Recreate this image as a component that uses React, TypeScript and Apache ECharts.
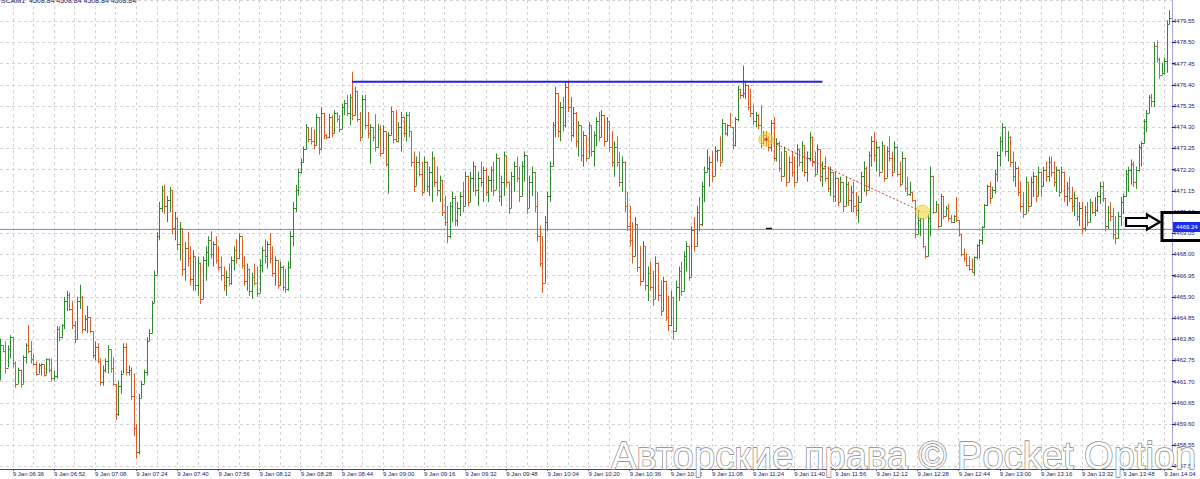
import React, { useEffect, useRef } from 'react';
import * as echarts from 'echarts';

// ---------- data ----------
const HEADER_TEXT = 'SCAM1  4508.84 4508.84 4508.84 4508.84';
const DAY_LABEL = '9 Jan';
const START_HOUR = 6;
const START_MIN = 31;
const FIRST_OPEN = 4462.0;

// one-minute bars (close / high / low)
const closes = [
  4463.5, 4463.2, 4462.4, 4463.3, 4463.9, 4462.6, 4461.6, 4462.3, 4461.6, 4462.9, 4463.5, 4463.2, 4462.8, 4462.55, 4462.1, 4462.5,
  4462.55, 4462.05, 4462.8, 4462.3, 4461.9, 4462.0, 4464.3, 4463.9, 4464.5, 4465.7, 4466.0, 4465.3, 4464.5, 4463.8, 4465.7, 4465.9,
  4464.3, 4464.8, 4464.9, 4464.2, 4463.0, 4463.4, 4462.7, 4461.7, 4462.3, 4462.7, 4463.3, 4462.4, 4461.6, 4460.1, 4461.5, 4462.1,
  4463.4, 4462.2, 4462.3, 4461.0, 4459.4, 4458.2, 4460.9, 4461.6, 4462.2, 4463.7, 4464.1, 4465.6, 4467.0, 4468.9, 4470.3, 4471.2,
  4470.4, 4470.7, 4471.2, 4469.3, 4469.8, 4468.5, 4469.3, 4467.3, 4468.3, 4467.8, 4466.8, 4467.9, 4466.5, 4467.6, 4465.8, 4467.7,
  4468.1, 4468.7, 4468.0, 4468.5, 4467.7, 4467.4, 4467.0, 4466.5, 4466.9, 4466.6, 4467.7, 4468.2, 4467.8, 4468.9, 4467.5, 4466.7,
  4467.3, 4466.2, 4466.9, 4466.6, 4466.1, 4467.5, 4468.2, 4467.9, 4468.5, 4467.8, 4467.1, 4467.7, 4466.5, 4467.4, 4466.4, 4466.3,
  4467.4, 4468.9, 4470.3, 4471.2, 4472.1, 4472.6, 4473.2, 4474.3, 4473.7, 4473.6, 4473.4, 4474.8, 4473.2, 4475.0, 4473.9, 4473.8,
  4474.8, 4474.0, 4475.0, 4474.7, 4474.2, 4475.3, 4475.5, 4475.0, 4475.8, 4474.9, 4476.1, 4474.7, 4473.8, 4475.7, 4474.4, 4474.0,
  4474.3, 4473.8, 4473.3, 4474.2, 4473.0, 4474.1, 4472.5, 4473.9, 4475.1, 4473.7, 4473.6, 4474.3, 4474.8, 4474.0, 4474.9, 4474.1,
  4472.6, 4471.4, 4472.6, 4472.0, 4471.1, 4472.6, 4471.4, 4472.1, 4472.8, 4471.6, 4471.2, 4471.7, 4470.1, 4469.6, 4468.9, 4470.4,
  4470.8, 4469.7, 4470.3, 4470.9, 4470.4, 4471.9, 4470.6, 4471.8, 4472.4, 4471.2, 4471.8, 4471.6, 4472.2, 4471.1, 4471.7, 4472.2,
  4471.2, 4472.8, 4470.9, 4471.6, 4472.9, 4471.6, 4470.3, 4471.9, 4472.4, 4471.8, 4470.9, 4472.4, 4472.9, 4470.3, 4471.6, 4472.1,
  4470.4, 4468.9, 4467.6, 4466.6, 4469.6, 4470.9, 4472.4, 4474.4, 4476.0, 4474.1, 4475.3, 4474.4, 4476.3, 4475.3, 4473.9, 4475.0,
  4473.6, 4474.4, 4472.9, 4473.9, 4472.8, 4474.4, 4473.1, 4473.9, 4474.6, 4473.8, 4474.9, 4473.6, 4474.6, 4473.3, 4472.6, 4473.3,
  4472.6, 4471.6, 4472.6, 4470.4, 4469.4, 4468.7, 4467.9, 4469.5, 4467.4, 4466.7, 4468.4, 4466.5, 4467.1, 4466.4, 4465.8, 4467.6,
  4466.0, 4465.2, 4466.7, 4464.9, 4464.5, 4465.9, 4464.2, 4466.4, 4467.2, 4466.2, 4467.9, 4468.4, 4466.9, 4469.2, 4468.4, 4470.1,
  4469.5, 4471.4, 4472.1, 4472.3, 4472.6, 4471.9, 4473.1, 4473.15, 4472.6, 4474.5, 4474.0, 4474.4, 4474.3, 4473.4, 4474.7, 4476.2,
  4475.9, 4476.0, 4476.4, 4475.3, 4475.0, 4474.6, 4474.9, 4474.4, 4473.5, 4473.9, 4473.7, 4473.3, 4474.5, 4472.8, 4473.5, 4472.3,
  4471.9, 4473.1, 4471.6, 4472.6, 4472.1, 4471.6, 4473.2, 4472.6, 4473.4, 4472.1, 4472.8, 4473.8, 4472.6, 4472.0, 4473.2, 4471.9,
  4472.3, 4471.8, 4471.3, 4472.1, 4470.9, 4471.8, 4470.6, 4471.6, 4470.4, 4471.5, 4470.7, 4471.1, 4470.4, 4470.2, 4470.6, 4471.9,
  4472.3, 4471.2, 4472.9, 4473.6, 4472.9, 4473.3, 4472.1, 4473.4, 4471.8, 4473.1, 4472.8, 4472.1, 4473.3, 4472.0, 4471.5, 4472.8,
  4471.3, 4471.0, 4471.1, 4470.7, 4469.0, 4469.7, 4469.8, 4468.4, 4467.9, 4469.8, 4471.9, 4470.1, 4470.5, 4469.4, 4470.9, 4469.9,
  4470.3, 4469.8, 4469.6, 4469.9, 4469.7, 4469.0, 4468.0, 4467.8, 4467.5, 4467.3, 4467.15, 4467.85, 4468.45, 4468.7, 4469.35, 4470.45,
  4471.4, 4470.8, 4471.2, 4472.0, 4472.9, 4473.6, 4474.3, 4473.1, 4473.8, 4472.6, 4471.9, 4472.3, 4471.1, 4470.4, 4470.0, 4471.6,
  4470.4, 4471.6, 4471.9, 4470.9, 4472.1, 4471.4, 4472.2, 4471.9, 4472.6, 4472.1, 4471.6, 4472.2, 4471.1, 4472.1, 4470.9, 4471.3,
  4470.8, 4470.4, 4470.8, 4469.9, 4470.3, 4469.3, 4470.1, 4469.6, 4470.6, 4470.1, 4470.2, 4470.9, 4471.4, 4470.8, 4469.4, 4470.1,
  4469.9, 4469.0, 4468.8, 4469.9, 4470.6, 4470.9, 4472.0, 4472.2, 4472.5, 4471.6, 4472.2, 4473.3, 4473.5, 4474.6, 4475.0, 4475.8,
  4475.6, 4478.3, 4477.7, 4476.9, 4477.0, 4477.6, 4479.4, 4479.7, 4479.5,
];

const highs = [
  4463.83, 4463.45, 4463.7, 4463.5, 4464.0, 4463.9, 4462.7, 4462.4, 4462.1, 4463.0, 4463.6, 4464.5, 4463.7, 4463.1, 4462.7, 4462.6,
  4462.6, 4462.5, 4462.85, 4462.85, 4462.85, 4462.25, 4464.45, 4464.45, 4464.55, 4465.9, 4466.2, 4466.1, 4465.7, 4464.7, 4465.9, 4466.5,
  4465.95, 4465.0, 4465.45, 4464.9, 4464.2, 4463.7, 4463.6, 4462.85, 4462.5, 4462.85, 4463.5, 4463.3, 4462.9, 4461.6, 4461.75, 4462.25,
  4463.6, 4463.6, 4462.5, 4462.4, 4462.1, 4459.6, 4461.1, 4461.75, 4462.3, 4463.9, 4464.3, 4465.7, 4467.2, 4469.1, 4470.6, 4471.4,
  4471.45, 4470.9, 4471.35, 4471.2, 4470.1, 4469.7, 4469.6, 4468.9, 4468.6, 4469.1, 4468.4, 4468.2, 4467.7, 4467.9, 4467.45, 4467.9,
  4468.4, 4468.9, 4469.15, 4468.65, 4468.9, 4468.4, 4467.9, 4467.4, 4467.2, 4467.55, 4467.9, 4468.4, 4468.75, 4469.05, 4468.65, 4467.9,
  4467.55, 4467.25, 4467.1, 4467.55, 4467.4, 4467.75, 4468.4, 4468.75, 4468.65, 4469.05, 4468.4, 4467.9, 4467.55, 4467.65, 4467.45, 4467.3,
  4467.65, 4469.15, 4470.6, 4471.45, 4472.25, 4472.75, 4473.35, 4474.45, 4474.15, 4474.3, 4474.2, 4474.95, 4474.45, 4475.3, 4475.0, 4473.95,
  4474.95, 4474.9, 4475.15, 4475.05, 4474.9, 4475.45, 4475.65, 4475.9, 4475.95, 4477.05, 4476.3, 4476.1, 4475.05, 4475.9, 4475.9, 4475.05,
  4474.45, 4474.3, 4474.95, 4474.45, 4474.4, 4474.4, 4474.1, 4474.05, 4475.3, 4475.1, 4475.15, 4474.55, 4475.06, 4474.8, 4475.05, 4475.05,
  4474.1, 4473.1, 4472.85, 4473.1, 4472.6, 4472.85, 4472.6, 4472.35, 4473.1, 4472.85, 4472.35, 4471.9, 4471.4, 4470.9, 4470.4, 4470.6,
  4471.1, 4470.9, 4470.6, 4471.1, 4471.6, 4472.1, 4471.9, 4472.1, 4472.6, 4472.4, 4472.1, 4472.6, 4472.35, 4472.3, 4471.9, 4472.35,
  4472.6, 4473.0, 4472.8, 4471.9, 4473.1, 4472.9, 4471.6, 4472.1, 4472.6, 4472.85, 4472.35, 4472.6, 4473.1, 4472.9, 4471.9, 4472.35,
  4472.1, 4471.1, 4469.4, 4468.9, 4469.9, 4471.1, 4472.6, 4474.55, 4476.3, 4475.8, 4475.55, 4475.8, 4476.55, 4476.6, 4475.8, 4475.3,
  4475.05, 4474.6, 4474.3, 4474.1, 4473.85, 4474.55, 4474.4, 4474.1, 4474.8, 4475.05, 4475.15, 4474.9, 4474.8, 4474.6, 4474.1, 4473.6,
  4473.85, 4473.1, 4472.85, 4472.1, 4471.1, 4470.4, 4469.6, 4469.85, 4468.9, 4468.4, 4468.65, 4467.9, 4467.4, 4467.65, 4467.2, 4467.9,
  4467.6, 4466.7, 4466.9, 4466.45, 4465.95, 4466.2, 4465.7, 4466.7, 4467.4, 4467.65, 4468.15, 4468.65, 4468.4, 4469.4, 4469.85, 4470.4,
  4470.85, 4471.6, 4472.35, 4473.2, 4472.85, 4473.1, 4473.35, 4473.2, 4473.85, 4474.7, 4474.5, 4474.45, 4475.0, 4474.3, 4474.8, 4476.35,
  4476.2, 4477.35, 4476.6, 4476.4, 4476.2, 4475.4, 4475.05, 4474.95, 4475.4, 4474.1, 4474.1, 4473.85, 4474.65, 4474.8, 4473.75, 4473.6,
  4473.1, 4473.35, 4473.1, 4472.85, 4473.1, 4472.85, 4473.45, 4473.2, 4473.6, 4473.35, 4473.1, 4474.05, 4473.85, 4473.1, 4473.45, 4473.2,
  4472.6, 4472.85, 4472.35, 4472.35, 4471.85, 4472.1, 4471.6, 4471.85, 4471.6, 4471.85, 4471.6, 4471.4, 4471.6, 4471.1, 4470.9, 4472.1,
  4472.6, 4472.35, 4473.1, 4473.85, 4474.05, 4473.6, 4473.35, 4473.6, 4473.1, 4473.35, 4473.85, 4473.1, 4473.6, 4473.35, 4472.6, 4473.1,
  4472.6, 4471.85, 4471.6, 4471.1, 4470.4, 4470.15, 4469.8, 4469.0, 4468.4, 4470.0, 4472.35, 4470.3, 4470.65, 4470.0, 4471.0, 4470.4,
  4470.4, 4470.5, 4469.95, 4469.95, 4470.85, 4469.65, 4469.0, 4468.3, 4468.05, 4467.9, 4467.8, 4467.9, 4468.5, 4468.75, 4469.4, 4470.5,
  4471.45, 4471.6, 4471.35, 4472.2, 4473.1, 4473.85, 4474.5, 4474.35, 4474.1, 4473.85, 4473.1, 4472.6, 4472.35, 4471.6, 4471.1, 4471.85,
  4471.6, 4471.85, 4472.1, 4471.85, 4472.35, 4472.1, 4472.35, 4472.6, 4472.85, 4472.85, 4472.6, 4472.35, 4472.1, 4472.35, 4472.1, 4471.6,
  4471.85, 4471.35, 4471.1, 4470.85, 4470.6, 4470.6, 4470.4, 4470.6, 4470.75, 4470.6, 4470.85, 4471.1, 4471.6, 4471.6, 4470.6, 4470.4,
  4470.6, 4470.3, 4469.9, 4470.1, 4470.85, 4471.0, 4472.2, 4472.35, 4472.7, 4472.6, 4472.35, 4473.45, 4473.6, 4474.7, 4475.15, 4475.9,
  4475.95, 4478.5, 4478.6, 4477.75, 4477.5, 4477.75, 4479.6, 4480.1, 4480.3,
];

const lows = [
  4461.76, 4463.15, 4462.1, 4462.5, 4462.85, 4462.4, 4461.4, 4461.75, 4461.4, 4461.85, 4462.6, 4463.1, 4462.6, 4462.5, 4462.0, 4462.15,
  4462.0, 4461.95, 4462.15, 4462.15, 4461.7, 4461.75, 4461.85, 4463.7, 4463.85, 4464.3, 4465.2, 4465.2, 4464.3, 4463.6, 4463.8, 4465.3,
  4464.1, 4464.2, 4464.1, 4464.1, 4462.85, 4462.75, 4462.6, 4461.5, 4461.5, 4462.15, 4462.1, 4462.15, 4461.5, 4459.8, 4460.0, 4461.1,
  4462.1, 4462.0, 4462.0, 4460.8, 4459.0, 4457.9, 4458.1, 4460.9, 4461.6, 4462.0, 4463.7, 4464.1, 4465.6, 4467.0, 4468.7, 4470.1,
  4470.0, 4469.6, 4470.1, 4469.0, 4468.7, 4468.2, 4467.7, 4466.95, 4466.7, 4467.4, 4466.45, 4466.2, 4466.2, 4465.95, 4465.55, 4466.2,
  4466.7, 4467.4, 4467.8, 4467.4, 4467.55, 4467.2, 4466.7, 4466.2, 4465.95, 4466.45, 4466.5, 4467.2, 4467.55, 4467.8, 4467.3, 4466.45,
  4466.2, 4465.95, 4465.8, 4466.45, 4465.9, 4466.1, 4467.1, 4467.55, 4467.3, 4467.55, 4466.9, 4466.45, 4466.3, 4466.45, 4466.2, 4466.1,
  4466.2, 4467.3, 4468.4, 4470.1, 4470.9, 4472.0, 4472.55, 4473.2, 4473.55, 4473.45, 4473.2, 4473.4, 4472.95, 4473.2, 4473.7, 4473.7,
  4473.75, 4473.8, 4474.0, 4474.55, 4474.05, 4474.2, 4474.9, 4474.85, 4474.4, 4474.65, 4475.3, 4474.55, 4473.6, 4473.8, 4474.2, 4473.75,
  4472.5, 4473.6, 4473.1, 4473.45, 4472.85, 4473.0, 4472.35, 4471.0, 4474.2, 4473.5, 4473.55, 4473.55, 4473.1, 4473.8, 4473.6, 4473.8,
  4472.35, 4471.1, 4471.6, 4471.85, 4470.9, 4471.1, 4471.1, 4470.9, 4470.6, 4471.35, 4470.9, 4470.6, 4469.9, 4469.4, 4468.55, 4468.8,
  4469.6, 4469.4, 4469.4, 4469.9, 4470.1, 4470.5, 4470.4, 4470.6, 4471.1, 4470.9, 4470.4, 4471.35, 4470.6, 4470.9, 4470.6, 4471.1,
  4470.9, 4471.35, 4470.6, 4470.4, 4470.9, 4471.35, 4470.0, 4470.4, 4471.1, 4471.6, 4470.6, 4470.9, 4471.6, 4470.0, 4470.4, 4470.9,
  4470.1, 4468.65, 4467.4, 4466.1, 4466.6, 4469.15, 4470.6, 4472.35, 4473.8, 4473.8, 4473.6, 4474.1, 4474.3, 4475.05, 4473.6, 4473.8,
  4473.3, 4472.85, 4472.6, 4472.35, 4472.6, 4472.8, 4472.85, 4472.35, 4473.35, 4473.6, 4473.8, 4473.35, 4473.6, 4473.1, 4472.35, 4471.85,
  4472.35, 4471.35, 4471.1, 4470.1, 4469.15, 4468.4, 4467.55, 4468.15, 4467.15, 4466.45, 4466.9, 4466.2, 4465.7, 4466.2, 4465.45, 4465.8,
  4465.7, 4464.95, 4465.2, 4464.7, 4464.2, 4464.45, 4463.8, 4464.2, 4465.7, 4465.95, 4466.45, 4467.15, 4466.7, 4466.9, 4468.15, 4468.4,
  4469.15, 4469.4, 4470.6, 4472.1, 4471.35, 4471.6, 4472.1, 4472.6, 4472.35, 4472.6, 4473.9, 4473.85, 4474.3, 4473.2, 4473.35, 4474.6,
  4475.7, 4475.75, 4475.7, 4475.15, 4474.8, 4474.4, 4474.3, 4474.2, 4473.25, 4473.45, 4473.35, 4473.1, 4473.1, 4472.6, 4472.6, 4472.1,
  4471.6, 4471.85, 4471.35, 4471.6, 4471.85, 4471.35, 4472.1, 4472.35, 4472.1, 4471.85, 4471.6, 4472.6, 4472.35, 4471.85, 4472.1, 4471.6,
  4471.35, 4471.6, 4471.1, 4470.9, 4470.6, 4470.6, 4470.4, 4470.6, 4470.1, 4470.4, 4470.4, 4470.1, 4470.1, 4469.9, 4469.55, 4470.6,
  4471.1, 4470.9, 4471.35, 4472.35, 4472.6, 4472.1, 4471.85, 4472.35, 4471.6, 4472.1, 4472.6, 4471.85, 4472.1, 4471.85, 4471.35, 4471.6,
  4471.1, 4470.9, 4470.9, 4470.6, 4468.8, 4469.5, 4468.9, 4468.3, 4467.8, 4467.9, 4468.9, 4470.0, 4470.35, 4469.3, 4469.4, 4469.75,
  4469.95, 4469.65, 4469.55, 4469.55, 4469.6, 4468.9, 4467.9, 4467.65, 4467.4, 4467.2, 4467.1, 4466.95, 4467.75, 4467.8, 4468.5, 4469.3,
  4470.4, 4470.5, 4470.8, 4471.0, 4471.6, 4472.35, 4473.1, 4472.85, 4472.6, 4472.35, 4471.6, 4471.35, 4470.9, 4470.1, 4469.8, 4470.4,
  4470.1, 4470.6, 4470.85, 4470.6, 4471.1, 4470.85, 4471.35, 4471.6, 4471.6, 4471.85, 4471.35, 4471.1, 4470.85, 4471.1, 4470.6, 4470.4,
  4470.6, 4470.1, 4469.9, 4469.65, 4469.4, 4469.0, 4469.15, 4469.4, 4469.9, 4470.0, 4469.9, 4470.1, 4470.5, 4470.6, 4469.15, 4469.25,
  4469.65, 4468.75, 4468.5, 4468.9, 4469.4, 4470.0, 4470.85, 4471.1, 4471.45, 4471.35, 4471.25, 4472.1, 4472.35, 4473.5, 4474.05, 4475.0,
  4475.3, 4475.3, 4477.5, 4476.7, 4476.9, 4476.9, 4477.0, 4479.4, 4479.3,
];

const Y_MIN = 4457.5;
const Y_MAX = 4480.6;
const Y_STEP = 1.05;
const PRICE_LINE = 4469.24;
const PRICE_LABEL = '4469.24';
const RESIST_LEVEL = 4476.55;
const RESIST_FROM = 137;
const RESIST_TO = 320;
const TREND_POINTS = [
  [298, 4473.7],
  [359, 4470.1],
];
const WATERMARK = 'Авторские права © Pocket Option';

// ---------- styles ----------
const UP = '#2f8a2f';
const DOWN = '#d65f2a';
const GRID = '#d4d4d4';
const AXIS_TEXT = '#1c1c6c';
const FONT = 'Liberation Sans';

const categories = closes.map((_, i) => {
  const t = START_HOUR * 60 + START_MIN + i;
  const hh = String(Math.floor(t / 60)).padStart(2, '0');
  const mm = String(t % 60).padStart(2, '0');
  return `${DAY_LABEL} ${hh}:${mm}`;
});

const bars = closes.map((c, i) => {
  const o = i === 0 ? FIRST_OPEN : closes[i - 1];
  const h = Math.max(highs[i], o, c);
  const l = Math.min(lows[i], o, c);
  return [i, o, c, l, h];
});

const labelInterval = (index: number) => index >= 5 && (index - 5) % 16 === 0;
const gridInterval = (index: number) => index >= 5 && (index - 5) % 8 === 0;

export default function App() {
  const ref = useRef<HTMLDivElement>(null);
  useEffect(() => {
    document.body.style.margin = '0';
    if (!ref.current) return;
    const chart = echarts.init(ref.current, undefined, { renderer: 'svg' });
    const option: any = {
      animation: false,
      backgroundColor: '#ffffff',
      grid: { left: 0, right: 28, top: -2.5, bottom: 12.55 },
      xAxis: {
        type: 'category',
        data: categories,
        boundaryGap: false,
        offset: 2.5,
        axisLine: { show: true, lineStyle: { color: '#46467a', width: 1 } },
        axisTick: { show: true, length: 2, interval: labelInterval, lineStyle: { color: '#46467a' } },
        axisLabel: {
          interval: labelInterval,
          align: 'left',
          margin: 2,
          fontSize: 6,
          fontFamily: FONT,
          color: AXIS_TEXT,
        },
        splitLine: { show: true, interval: gridInterval, lineStyle: { color: GRID, type: [3, 3], width: 1 } },
      },
      yAxis: {
        type: 'value',
        position: 'right',
        min: Y_MIN,
        max: Y_MAX,
        interval: Y_STEP,
        axisLine: { show: true, lineStyle: { color: '#a4a4d8' } },
        axisTick: { show: true, length: 3, lineStyle: { color: AXIS_TEXT } },
        axisLabel: {
          showMaxLabel: false,
          formatter: (v: number) => v.toFixed(2),
          margin: 1,
          fontSize: 6,
          fontFamily: FONT,
          color: AXIS_TEXT,
        },
        splitLine: { show: true, lineStyle: { color: GRID, type: [3, 3], width: 1 } },
      },
      series: [
        {
          type: 'line',
          data: [
            [0, PRICE_LINE],
            [categories.length - 1, PRICE_LINE],
          ],
          symbol: 'none',
          silent: true,
          z: 1,
          lineStyle: { color: '#7c7cf0', width: 1 },
        },
        {
          type: 'custom',
          clip: true,
          z: 3,
          encode: { x: 0, y: [1, 2, 3, 4] },
          data: bars,
          renderItem: (params: any, api: any) => {
            const idx = api.value(0);
            const o = api.value(1);
            const c = api.value(2);
            const l = api.value(3);
            const h = api.value(4);
            const pH = api.coord([idx, h]);
            const pL = api.coord([idx, l]);
            const pO = api.coord([idx, o]);
            const pC = api.coord([idx, c]);
            const x = Math.round(pH[0]) + 0.5;
            const color = c >= o ? UP : DOWN;
            const yo = Math.round(pO[1]) + 0.5;
            const yc = Math.round(pC[1]) + 0.5;
            return {
              type: 'group',
              children: [
                { type: 'line', shape: { x1: x, y1: pH[1], x2: x, y2: pL[1] }, style: { stroke: color, lineWidth: 1 } },
                { type: 'line', shape: { x1: x - 1.5, y1: yo, x2: x, y2: yo }, style: { stroke: color, lineWidth: 1 } },
                { type: 'line', shape: { x1: x, y1: yc, x2: x + 1.5, y2: yc }, style: { stroke: color, lineWidth: 1 } },
              ],
            };
          },
        },
        {
          type: 'line',
          data: [
            [RESIST_FROM, RESIST_LEVEL],
            [RESIST_TO, RESIST_LEVEL],
          ],
          symbol: 'none',
          silent: true,
          z: 5,
          lineStyle: { color: '#2323e0', width: 2 },
        },
        {
          type: 'line',
          data: TREND_POINTS,
          symbol: 'none',
          silent: true,
          z: 5,
          lineStyle: { color: '#e0302a', width: 1, type: [2, 2] },
        },
        {
          type: 'scatter',
          data: TREND_POINTS,
          symbol: 'circle',
          symbolSize: 14,
          silent: true,
          z: 6,
          itemStyle: { color: 'rgba(240,214,60,0.72)', borderColor: 'rgba(205,180,30,0.7)', borderWidth: 1 },
        },
        {
          type: 'scatter',
          data: [TREND_POINTS[0]],
          symbol: 'rect',
          symbolSize: 3,
          silent: true,
          z: 7,
          itemStyle: { color: '#e02020' },
        },
      ],
      graphic: [
        {
          type: 'text',
          z: 100,
          style: { text: HEADER_TEXT, x: 1, y: -3, fontSize: 7, fontFamily: FONT, fill: '#23236e', verticalAlign: 'top' },
        },
        {
          type: 'line',
          z: 100,
          shape: { x1: 766, y1: 228.5, x2: 772, y2: 228.5 },
          style: { stroke: '#111', lineWidth: 1.5 },
        },
        {
          type: 'polygon',
          z: 100,
          shape: {
            points: [
              [1126, 218],
              [1147, 218],
              [1147, 214.5],
              [1160, 222],
              [1147, 229.5],
              [1147, 226],
              [1126, 226],
            ],
          },
          style: { fill: '#ffffff', stroke: '#000000', lineWidth: 2.2 },
        },
        {
          type: 'rect',
          z: 100,
          shape: { x: 1173, y: 222, width: 27, height: 10 },
          style: { fill: '#1d2cf2' },
        },
        {
          type: 'text',
          z: 101,
          style: { text: PRICE_LABEL, x: 1176, y: 227, fontSize: 6, fontFamily: FONT, fill: '#ffffff', verticalAlign: 'middle' },
        },
        {
          type: 'rect',
          z: 102,
          shape: { x: 1162, y: 212.5, width: 45, height: 28 },
          style: { fill: 'none', stroke: '#000000', lineWidth: 3 },
        },
        {
          type: 'text',
          z: 110,
          style: {
            text: WATERMARK,
            x: 611,
            y: 437,
            fontSize: 38.1,
            fontFamily: FONT,
            fill: 'rgba(255,255,255,0.95)',
            stroke: '#888888',
            lineWidth: 1.3,
            verticalAlign: 'top',
          },
        },
      ],
    };
    chart.setOption(option);
    return () => chart.dispose();
  }, []);
  return <div ref={ref} style={{ width: 1200, height: 479 }} />;
}
